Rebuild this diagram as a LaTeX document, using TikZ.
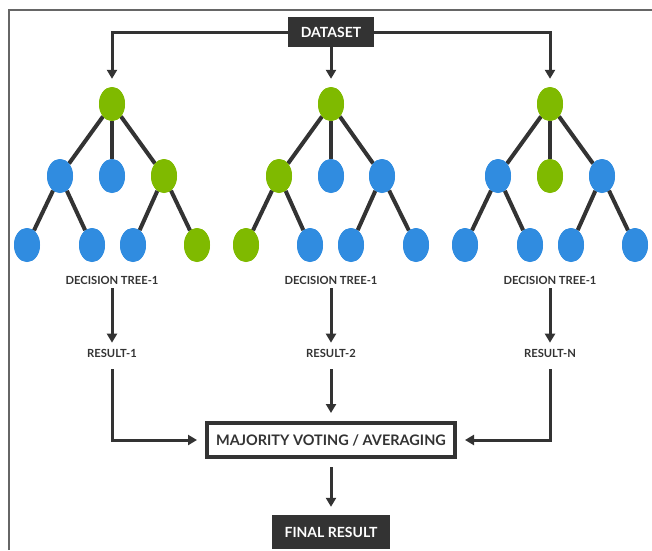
\documentclass[tikz,border=0pt]{standalone}
\usepackage{fontspec}
\setsansfont{Lato}
\usetikzlibrary{shapes.geometric,arrows.meta}
\definecolor{leafgreen}{RGB}{127,186,0}
\definecolor{leafblue}{RGB}{48,140,224}
\definecolor{ink}{RGB}{51,51,51}
\begin{document}
\begin{tikzpicture}
        [x=1pt, y=-1pt,
        gnode/.style={ellipse, fill=leafgreen, minimum width=26pt, minimum height=34pt, inner sep=0pt},
        bnode/.style={ellipse, fill=leafblue, minimum width=26pt, minimum height=34pt, inner sep=0pt},
        edge/.style={line width=4pt, ink},
        arr/.style={line width=3pt, ink, -{Triangle[width=10pt,length=9pt]}},
        darkbox/.style={fill=ink, text=white, font=\sffamily\bfseries\fontsize{14}{16}\selectfont, inner sep=0pt},
        label/.style={text=ink, font=\sffamily\bfseries\fontsize{11.2}{13}\selectfont, inner sep=0pt}]

        \useasboundingbox (0,0) rectangle (652,550);
        % frame lines
        \draw[line width=2pt, gray!80!black] (9,550) -- (9,10) -- (652,10);

        % dataset
        \node[darkbox, minimum width=86pt, minimum height=30pt] (data) at (331,32) {DATASET};

        % tree 1
        \node[gnode] (r1) at (112,104) {};
        \node[bnode] (m1a) at (60,176) {};
        \node[bnode] (m1b) at (112,176) {};
        \node[gnode] (m1c) at (164,176) {};
        \node[bnode] (l1a) at (27,245) {};
        \node[bnode] (l1b) at (92,245) {};
        \node[bnode] (l1c) at (133,245) {};
        \node[gnode] (l1d) at (197,245) {};

        % tree 2
        \node[gnode] (r2) at (331,104) {};
        \node[gnode] (m2a) at (279,176) {};
        \node[bnode] (m2b) at (331,176) {};
        \node[bnode] (m2c) at (382,176) {};
        \node[gnode] (l2a) at (246,245) {};
        \node[bnode] (l2b) at (310,245) {};
        \node[bnode] (l2c) at (351,245) {};
        \node[bnode] (l2d) at (416,245) {};

        % tree 3
        \node[gnode] (r3) at (550,104) {};
        \node[bnode] (m3a) at (498,176) {};
        \node[gnode] (m3b) at (550,176) {};
        \node[bnode] (m3c) at (602,176) {};
        \node[bnode] (l3a) at (465,245) {};
        \node[bnode] (l3b) at (530,245) {};
        \node[bnode] (l3c) at (571,245) {};
        \node[bnode] (l3d) at (635,245) {};

        % tree edges
        \draw[edge] (r1) -- (m1a);
        \draw[edge] (r1) -- (m1b);
        \draw[edge] (r1) -- (m1c);
        \draw[edge] (m1a) -- (l1a);
        \draw[edge] (m1a) -- (l1b);
        \draw[edge] (m1c) -- (l1c);
        \draw[edge] (m1c) -- (l1d);

        \draw[edge] (r2) -- (m2a);
        \draw[edge] (r2) -- (m2b);
        \draw[edge] (r2) -- (m2c);
        \draw[edge] (m2a) -- (l2a);
        \draw[edge] (m2a) -- (l2b);
        \draw[edge] (m2c) -- (l2c);
        \draw[edge] (m2c) -- (l2d);

        \draw[edge] (r3) -- (m3a);
        \draw[edge] (r3) -- (m3b);
        \draw[edge] (r3) -- (m3c);
        \draw[edge] (m3a) -- (l3a);
        \draw[edge] (m3a) -- (l3b);
        \draw[edge] (m3c) -- (l3c);
        \draw[edge] (m3c) -- (l3d);

        % redraw nodes above the edges
        \foreach \n in {r1,m1c,l1d,r2,m2a,l2a,r3,m3b} \fill[leafgreen] (\n.center) ellipse (13pt and 17pt);
        \foreach \n in {m1a,m1b,l1a,l1b,l1c,m2b,m2c,l2b,l2c,l2d,m3a,m3c,l3a,l3b,l3c,l3d} \fill[leafblue] (\n.center) ellipse (13pt and 17pt);

        % labels
        \node[label] (dt1) at (112,280) {DECISION TREE-1};
        \node[label] (dt2) at (331,280) {DECISION TREE-1};
        \node[label] (dt3) at (550,280) {DECISION TREE-1};
        \node[label] (res1) at (112,353) {RESULT-1};
        \node[label] (res2) at (331,353) {RESULT-2};
        \node[label] (resn) at (550,353) {RESULT-N};

        % voting and final result
        \node[draw=ink, line width=4pt, text=ink, font=\sffamily\bfseries\fontsize{14.5}{17}\selectfont,
              minimum width=248pt, minimum height=34pt, inner sep=0pt] (vote) at (331,440) {MAJORITY VOTING / AVERAGING};
        \node[darkbox, minimum width=118pt, minimum height=34pt] (final) at (331,532) {FINAL RESULT};

        % arrows
        \draw[arr, shorten >=8pt] (data.west) -| (r1.north);
        \draw[arr, shorten >=8pt] (data.south) -- (r2.north);
        \draw[arr, shorten >=8pt] (data.east) -| (r3.north);

        \draw[arr, shorten <=4pt, shorten >=6pt] (dt1.south) -- (res1.north);
        \draw[arr, shorten <=4pt, shorten >=6pt] (dt2.south) -- (res2.north);
        \draw[arr, shorten <=4pt, shorten >=6pt] (dt3.south) -- (resn.north);

        \draw[arr, shorten <=12pt, shorten >=8pt] (res1.south) |- (vote.west);
        \draw[arr, shorten <=12pt, shorten >=8pt] (res2.south) -- (vote.north);
        \draw[arr, shorten <=12pt, shorten >=8pt] (resn.south) |- (vote.east);
        \draw[arr, shorten <=8pt, shorten >=8pt] (vote.south) -- (final.north);

        \end{tikzpicture}
\end{document}
